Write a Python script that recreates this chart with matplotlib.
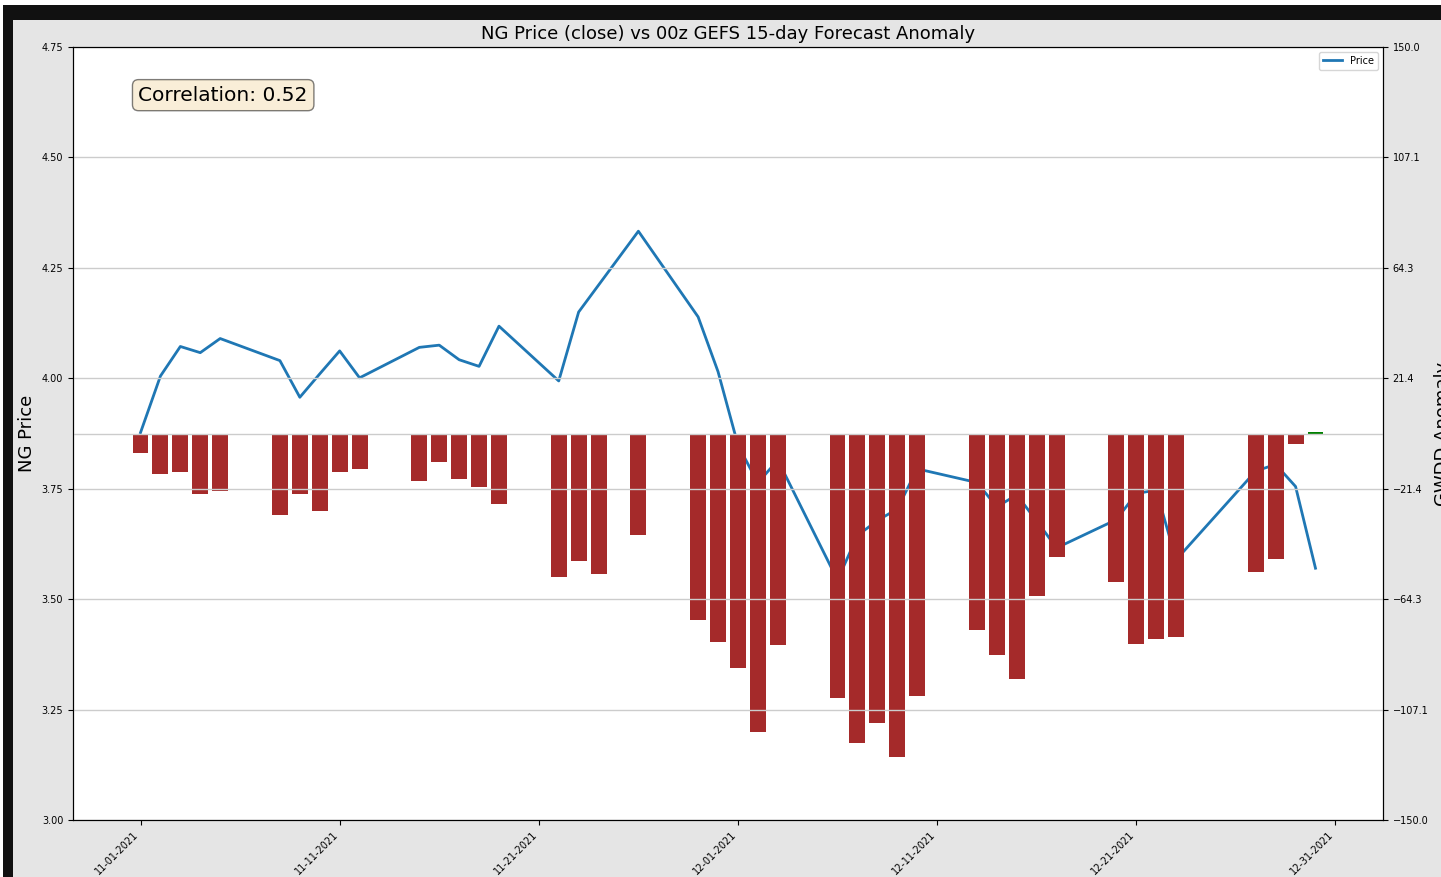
import numpy as np
import pandas as pd
import matplotlib
matplotlib.use("Agg")
import matplotlib.pyplot as plt
from matplotlib.patches import Rectangle
from matplotlib.ticker import FuncFormatter
import matplotlib.dates as mdates

# trading days, Nov/Dec 2021
dates = pd.to_datetime([
    "2021-11-01", "2021-11-02", "2021-11-03", "2021-11-04", "2021-11-05",
    "2021-11-08", "2021-11-09", "2021-11-10", "2021-11-11", "2021-11-12",
    "2021-11-15", "2021-11-16", "2021-11-17", "2021-11-18", "2021-11-19",
    "2021-11-22", "2021-11-23", "2021-11-24", "2021-11-26",
    "2021-11-29", "2021-11-30", "2021-12-01", "2021-12-02", "2021-12-03",
    "2021-12-06", "2021-12-07", "2021-12-08", "2021-12-09", "2021-12-10",
    "2021-12-13", "2021-12-14", "2021-12-15", "2021-12-16", "2021-12-17",
    "2021-12-20", "2021-12-21", "2021-12-22", "2021-12-23",
    "2021-12-27", "2021-12-28", "2021-12-29", "2021-12-30",
])

price = [
    3.877, 4.005, 4.072, 4.058, 4.090,
    4.040, 3.957, 4.010, 4.062, 4.001,
    4.070, 4.075, 4.042, 4.027, 4.118,
    3.994, 4.150, 4.211, 4.333,
    4.139, 4.015, 3.849, 3.763, 3.815,
    3.543, 3.644, 3.678, 3.704, 3.795,
    3.764, 3.709, 3.736, 3.677, 3.616,
    3.680, 3.739, 3.747, 3.589,
    3.790, 3.805, 3.755, 3.570,
]

gwdd = [
    -7.4, -15.6, -14.9, -23.4, -22.4,
    -31.6, -23.6, -30.0, -14.9, -13.9,
    -18.4, -11.1, -17.7, -20.6, -27.2,
    -55.5, -49.4, -54.5, -39.3,
    -72.2, -80.8, -91.1, -116.0, -81.9,
    -102.8, -120.0, -112.3, -125.5, -101.7,
    -76.3, -85.9, -95.3, -63.0, -48.0,
    -57.7, -81.7, -79.7, -78.9,
    -53.8, -48.9, -4.0, 0.4,
]

correlation = 0.52
xtick_dates = pd.date_range("2021-11-01", periods=7, freq="10D")

W, H = 1441, 877
fig = plt.figure(figsize=(W / 100, H / 100), dpi=100)
fig.patch.set_facecolor("white")
# screenshot frame: black border on top/left, grey figure background
fig.add_artist(Rectangle((3 / W, 0), 1, 1 - 5 / H, transform=fig.transFigure,
                         facecolor="#111111", edgecolor="none", zorder=-3))
fig.add_artist(Rectangle((13 / W, 0), 1, 1 - 20 / H, transform=fig.transFigure,
                         facecolor="#e5e5e5", edgecolor="none", zorder=-2))

ax1 = fig.add_axes([73 / W, 1 - 820 / H, (1383 - 73) / W, (820 - 47) / H])
ax2 = ax1.twinx()

ax1.plot(dates, price, color="#1f77b4", lw=2, label="Price")
colors = ["green" if v > 0 else "#a52a2a" for v in gwdd]
ax2.bar(dates, gwdd, width=0.8, color=colors)
ax2.axhline(0, color="#cccccc", lw=1)

ax1.set_ylim(3.0, 4.75)
ax1.set_yticks(np.arange(3.0, 4.76, 0.25))
ax2.set_ylim(-150, 150)
ax2.set_yticks(np.linspace(-150, 150, 8))
ax2.yaxis.set_major_formatter(FuncFormatter(lambda v, p: f"{v:.1f}".replace("-", "\u2212")))
ax2.grid(axis="y", color="#cccccc", lw=1)

ax1.set_xticks(xtick_dates)
ax1.xaxis.set_major_formatter(mdates.DateFormatter("%m-%d-%Y"))
for lab in ax1.get_xticklabels():
    lab.set_rotation(45)
    lab.set_ha("right")

ax1.tick_params(labelsize=7)
ax2.tick_params(labelsize=7)

ax1.set_ylabel("NG Price", fontsize=13)
ax2.set_ylabel("GWDD Anomaly", fontsize=13)
ax1.set_title("NG Price (close) vs 00z GEFS 15-day Forecast Anomaly", fontsize=13)

ax1.legend(loc="upper right", fontsize=7)
ax1.text(0.05, 0.95, f"Correlation: {correlation:.2f}", transform=ax1.transAxes,
         fontsize=14.5, va="top",
         bbox=dict(boxstyle="round", facecolor="wheat", alpha=0.5))

fig.savefig("out.png", dpi=100, facecolor=fig.get_facecolor())
